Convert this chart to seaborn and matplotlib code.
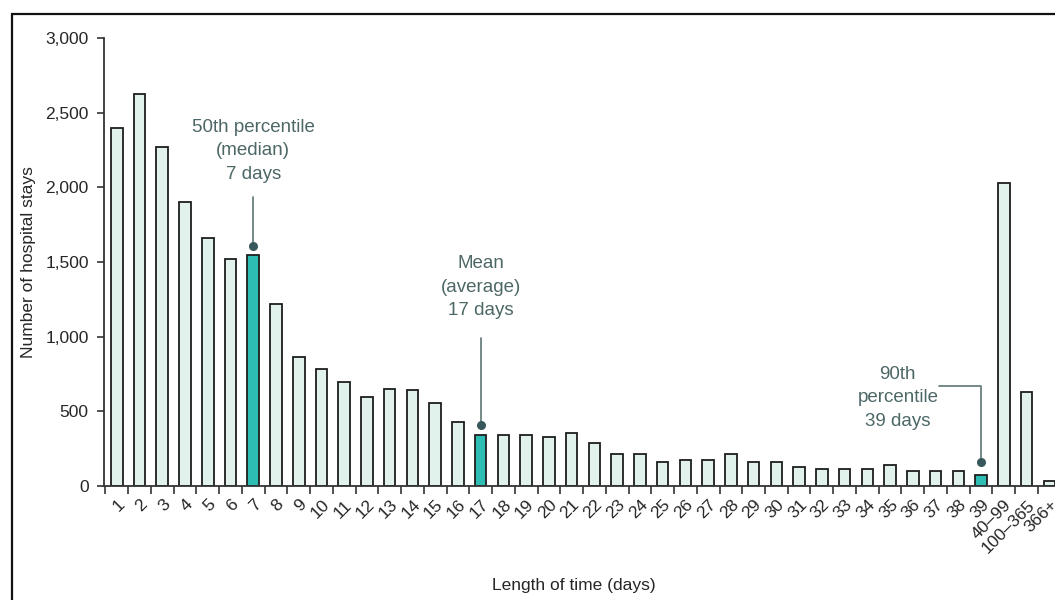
import matplotlib
matplotlib.use("Agg")
import matplotlib.pyplot as plt
from matplotlib.patches import Rectangle
from matplotlib.ticker import FuncFormatter
import seaborn as sns
import pandas as pd

# Data
days = [str(i) for i in range(1, 40)] + ["40–99", "100–365", "366+"]
stays = [2400, 2626, 2273, 1902, 1663, 1520, 1549, 1221, 866, 781,
         697, 598, 652, 641, 554, 427, 342, 342, 342, 328,
         357, 286, 214, 214, 159, 172, 172, 214, 159, 159,
         129, 116, 116, 116, 143, 103, 103, 103, 71,
         2032, 627, 31]
highlight = ["7", "17", "39"]

light = "#e1f1ec"
teal = "#2ebdb2"
note_col = "#4d6767"
line_col = "#5f7676"

df = pd.DataFrame({"days": days, "stays": stays})
palette = {d: (teal if d in highlight else light) for d in days}

sns.set_style("white")
plt.rcParams["font.family"] = ["Liberation Sans", "DejaVu Sans"]

fig = plt.figure(figsize=(10.55, 6), dpi=100)
# axes runs a little past the right edge so the last bar gets cut like the original
ax = fig.add_axes([104 / 1055, 1 - 486 / 600, 956.7 / 1055, (486 - 38) / 600])

sns.barplot(data=df, x="days", y="stays", hue="days", palette=palette,
            legend=False, width=0.51, edgecolor="#1e1e1e", linewidth=1.3,
            saturation=1, ax=ax)

ax.set_xlim(-0.56, 41.5)
ax.set_ylim(0, 3000)
ax.set_yticks(range(0, 3001, 500))
ax.yaxis.set_major_formatter(FuncFormatter(lambda v, p: f"{int(v):,}"))

# category labels under bars, small ticks between bars
ax.set_xticks(range(len(days)))
ax.set_xticklabels(days, rotation=45, ha="right", rotation_mode="anchor")
ax.set_xticks([i - 0.5 for i in range(len(days) + 1)], minor=True)
ax.tick_params(axis="x", which="major", length=0, pad=8, labelsize=12.5)
ax.tick_params(axis="x", which="minor", length=6, width=1.2, color="#333333",
               direction="out", bottom=True)
ax.tick_params(axis="y", length=5, width=1.2, color="#333333", direction="out",
               left=True, labelsize=12.5, pad=6)

for s in ["top", "right"]:
    ax.spines[s].set_visible(False)
for s in ["left", "bottom"]:
    ax.spines[s].set_color("#333333")
    ax.spines[s].set_linewidth(1.3)

ax.set_xlabel("Length of time (days)", fontsize=12.5)
ax.set_ylabel("Number of hospital stays", fontsize=12.5)
ax.xaxis.set_label_coords(0.5 - 9 / 956.7, -0.205)
ax.yaxis.set_label_coords(-68 / 956.7, 0.5)

# annotations
ax.plot([6, 6], [1610, 1938], color=line_col, lw=1.2)
ax.scatter([6], [1610], s=30, color="#37585a", zorder=5)
ax.text(6, 2030, "50th percentile\n(median)\n7 days", ha="center", va="bottom",
        color=note_col, fontsize=13.5, linespacing=1.5)

ax.plot([16, 16], [408, 989], color=line_col, lw=1.2)
ax.scatter([16], [408], s=30, color="#37585a", zorder=5)
ax.text(16, 1115, "Mean\n(average)\n17 days", ha="center", va="bottom",
        color=note_col, fontsize=13.5, linespacing=1.5)

ax.plot([36.17, 38, 38], [670, 670, 163], color=line_col, lw=1.2)
ax.scatter([38], [163], s=30, color="#37585a", zorder=5)
ax.text(34.34, 378, "90th\npercentile\n39 days", ha="center", va="bottom",
        color=note_col, fontsize=13.5, linespacing=1.5)

# outer frame (left and top edges visible)
fig.add_artist(Rectangle((11.5 / 1055, -0.1), 2, 1 - 14 / 600 + 0.1,
                         transform=fig.transFigure, fill=False,
                         lw=1.6, ec="#111111"))

fig.savefig("out.png", dpi=100)
